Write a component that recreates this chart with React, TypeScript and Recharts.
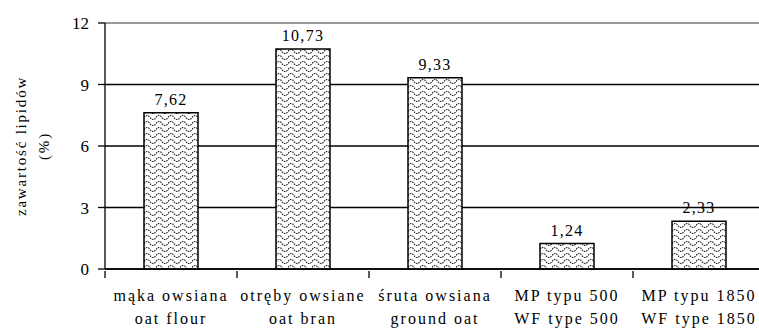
import React from "react"
import { BarChart, Bar, XAxis, YAxis, CartesianGrid, ReferenceLine, LabelList, Label } from "recharts"

const namesPl = ["mąka owsiana", "otręby owsiane", "śruta owsiana", "MP typu 500", "MP typu 1850"]
const namesEn = ["oat flour", "oat bran", "ground oat", "WF type 500", "WF type 1850"]
const lipids = [7.62, 10.73, 9.33, 1.24, 2.33]
const yTicks = [0, 3, 6, 9, 12]

const data = namesPl.map((name, i) => ({ name, en: namesEn[i], value: lipids[i] }))

const FONT = "Liberation Serif"
const CHART_W = 780
const CHART_H = 333
const Y_AXIS_W = 105
const RIGHT = 15
const HALF_BAND = (CHART_W - Y_AXIS_W - RIGHT) / data.length / 2

const fmt = (v: number) => String(v).replace(".", ",")

function CategoryTick(props: any) {
  const { x, y, payload, index } = props
  const row = data[index] || data.find((d) => d.name === payload.value)
  const last = index === data.length - 1
  return (
    <g>
      <line x1={x - HALF_BAND} y1={y - 6} x2={x - HALF_BAND} y2={y + 1} stroke="#000" strokeWidth={1.3} />
      {last && <line x1={x + HALF_BAND} y1={y - 6} x2={x + HALF_BAND} y2={y + 1} stroke="#000" strokeWidth={1.3} />}
      <text x={x} y={y + 24} textAnchor="middle" fontFamily={FONT} fontSize={16} letterSpacing={2} fill="#000">
        {payload.value}
      </text>
      <text x={x} y={y + 47} textAnchor="middle" fontFamily={FONT} fontSize={16} letterSpacing={2} fill="#000">
        {row ? row.en : ""}
      </text>
    </g>
  )
}

function YTitle(props: any) {
  const { viewBox } = props
  const cy = viewBox.y + viewBox.height / 2
  return (
    <g fontFamily={FONT} fontSize={15} fill="#000" letterSpacing={1.8}>
      <text x={26} y={cy} textAnchor="middle" transform={`rotate(-90, 26, ${cy})`}>
        zawartość lipidów
      </text>
      <text x={49} y={cy} textAnchor="middle" transform={`rotate(-90, 49, ${cy})`}>
        (%)
      </text>
    </g>
  )
}

export default function App() {
  return (
    <div style={{ position: "absolute", left: 0, top: 0, width: 759, height: CHART_H, overflow: "hidden", background: "#fff" }}>
      <BarChart width={CHART_W} height={CHART_H} data={data} margin={{ top: 23, right: RIGHT, left: 0, bottom: 0 }}>
        <defs>
          <pattern id="wave" width={12} height={6} patternUnits="userSpaceOnUse">
            <rect width={12} height={6} fill="#fff" />
            <path d="M0,3.5 C2,0.8 4,0.8 6,3.5 S10,6.2 12,3.5" fill="none" stroke="#222" strokeWidth={1.1} strokeDasharray="1.6 0.9" />
          </pattern>
        </defs>
        <CartesianGrid vertical={false} stroke="#000" strokeWidth={1.3} />
        <ReferenceLine y={12} stroke="#999" strokeWidth={2} />
        <XAxis
          dataKey="name"
          interval={0}
          height={64}
          axisLine={{ stroke: "#000", strokeWidth: 1.3 }}
          tickLine={false}
          tick={<CategoryTick />}
        />
        <YAxis
          width={Y_AXIS_W}
          domain={[0, 12]}
          ticks={yTicks}
          interval={0}
          tickSize={7}
          tickMargin={9}
          axisLine={{ stroke: "#000", strokeWidth: 1.3 }}
          tickLine={{ stroke: "#000", strokeWidth: 1.3 }}
          tick={{ fontFamily: FONT, fontSize: 17, fill: "#000" }}
        >
          <Label content={<YTitle />} />
        </YAxis>
        <Bar dataKey="value" barSize={54} fill="url(#wave)" stroke="#000" strokeWidth={1.5} isAnimationActive={false}>
          <LabelList
            dataKey="value"
            position="top"
            offset={8}
            formatter={(v: any) => fmt(v)}
            style={{ fontFamily: FONT, fontSize: 16, fill: "#000", letterSpacing: 1.3 }}
          />
        </Bar>
      </BarChart>
    </div>
  )
}
